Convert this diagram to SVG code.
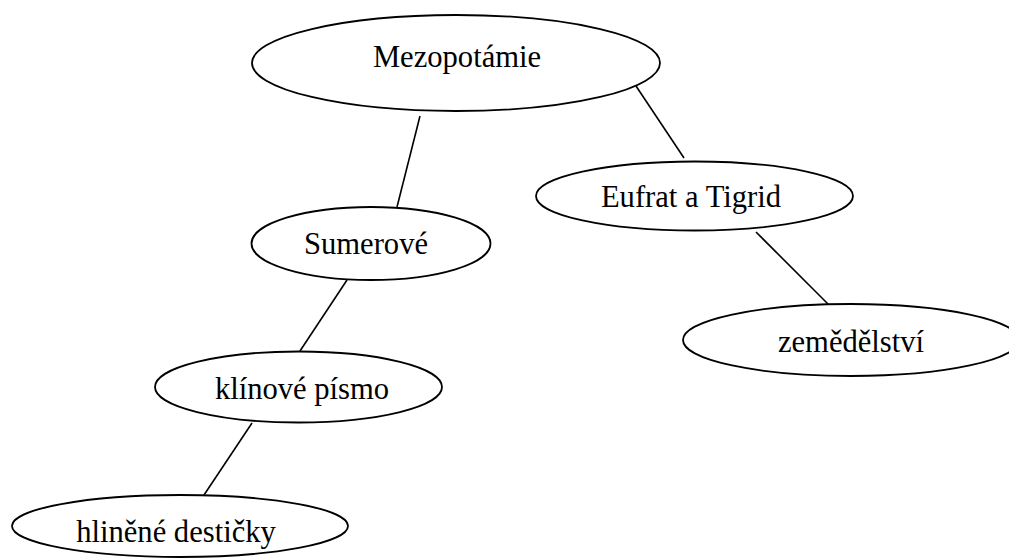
<svg xmlns="http://www.w3.org/2000/svg" width="1009" height="559" viewBox="0 0 1009 559">
<style>
.n ellipse{fill:#fff;stroke:#000;stroke-width:1.8}
.n text{font-family:"Liberation Serif","Times New Roman",serif;font-size:30.6px;fill:#000;text-anchor:middle}
#edges line{stroke:#000;stroke-width:1.6}
</style>
<rect width="1009" height="559" fill="#fff"/>
<g id="edges">
<line x1="420" y1="116" x2="397" y2="207"/>
<line x1="636" y1="86" x2="684" y2="158"/>
<line x1="756" y1="232" x2="828" y2="304"/>
<line x1="347" y1="280" x2="300" y2="351"/>
<line x1="252" y1="423" x2="204" y2="495"/>
</g>
<g id="mezopotamie" class="n"><ellipse cx="456" cy="63" rx="204" ry="48"/><text x="457" y="67">Mezopotámie</text></g>
<g id="eufrat" class="n"><ellipse cx="694.5" cy="196" rx="158.5" ry="34.5"/><text x="691" y="207">Eufrat a Tigrid</text></g>
<g id="zemedelstvi" class="n"><ellipse cx="851" cy="340" rx="168" ry="36"/><text x="851" y="352">zemědělství</text></g>
<g id="sumerove" class="n"><ellipse cx="371" cy="243.5" rx="119.5" ry="36.5"/><text x="366" y="254">Sumerové</text></g>
<g id="klinove" class="n"><ellipse cx="298.5" cy="387" rx="143.5" ry="35.5"/><text x="302" y="399">klínové písmo</text></g>
<g id="hlinene" class="n"><ellipse cx="180" cy="526" rx="168" ry="31"/><text x="176" y="542">hliněné destičky</text></g>
</svg>
